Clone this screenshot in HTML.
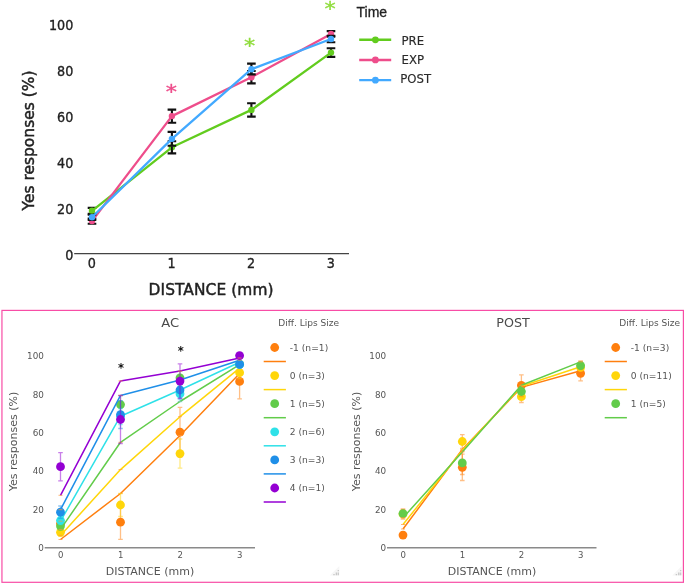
<!DOCTYPE html>
<html lang="en"><head><meta charset="utf-8"><title>Yes responses by distance</title>
<style>
html,body{margin:0;padding:0;background:#fff;}
body{width:685px;height:584px;overflow:hidden;font-family:"DejaVu Sans","Liberation Sans",sans-serif;}
svg{display:block;}
</style></head><body>
<svg width="685" height="584" viewBox="0 0 685 584">
<rect width="685" height="584" fill="#fff"/>
<g id="top">
<line x1="74.2" y1="253.7" x2="349" y2="253.7" stroke="#444" stroke-width="1.3"/>
<text transform="translate(73.3,260.2) scale(0.9,1)" font-size="14.2" text-anchor="end" fill="#222" stroke="#222" stroke-width="0.35" font-family="DejaVu Sans, Liberation Sans, sans-serif">0</text>
<text transform="translate(73.3,214.2) scale(0.9,1)" font-size="14.2" text-anchor="end" fill="#222" stroke="#222" stroke-width="0.35" font-family="DejaVu Sans, Liberation Sans, sans-serif">20</text>
<text transform="translate(73.3,168.2) scale(0.9,1)" font-size="14.2" text-anchor="end" fill="#222" stroke="#222" stroke-width="0.35" font-family="DejaVu Sans, Liberation Sans, sans-serif">40</text>
<text transform="translate(73.3,122.2) scale(0.9,1)" font-size="14.2" text-anchor="end" fill="#222" stroke="#222" stroke-width="0.35" font-family="DejaVu Sans, Liberation Sans, sans-serif">60</text>
<text transform="translate(73.3,76.2) scale(0.9,1)" font-size="14.2" text-anchor="end" fill="#222" stroke="#222" stroke-width="0.35" font-family="DejaVu Sans, Liberation Sans, sans-serif">80</text>
<text transform="translate(73.3,30.2) scale(0.9,1)" font-size="14.2" text-anchor="end" fill="#222" stroke="#222" stroke-width="0.35" font-family="DejaVu Sans, Liberation Sans, sans-serif">100</text>
<text transform="translate(91.75,268.4) scale(0.9,1)" font-size="14.2" text-anchor="middle" fill="#222" stroke="#222" stroke-width="0.35" font-family="DejaVu Sans, Liberation Sans, sans-serif">0</text>
<text transform="translate(171.65,268.4) scale(0.9,1)" font-size="14.2" text-anchor="middle" fill="#222" stroke="#222" stroke-width="0.35" font-family="DejaVu Sans, Liberation Sans, sans-serif">1</text>
<text transform="translate(251.15,268.4) scale(0.9,1)" font-size="14.2" text-anchor="middle" fill="#222" stroke="#222" stroke-width="0.35" font-family="DejaVu Sans, Liberation Sans, sans-serif">2</text>
<text transform="translate(330.75,268.4) scale(0.9,1)" font-size="14.2" text-anchor="middle" fill="#222" stroke="#222" stroke-width="0.35" font-family="DejaVu Sans, Liberation Sans, sans-serif">3</text>
<text transform="translate(211.1,295.3)" font-size="15.4" text-anchor="middle" fill="#222" stroke="#222" stroke-width="0.45" font-family="DejaVu Sans, Liberation Sans, sans-serif" letter-spacing="0.1">DISTANCE (mm)</text>
<text transform="translate(34.3,140.5) rotate(-90)" font-size="15.4" text-anchor="middle" fill="#222" stroke="#222" stroke-width="0.45" font-family="DejaVu Sans, Liberation Sans, sans-serif" letter-spacing="0.05">Yes responses (%)</text>
<path d="M92 207.9V213.8M87.7 207.9H96.3M87.7 213.8H96.3" stroke="#111" stroke-width="2.1" fill="none"/>
<path d="M171.9 141.2V153.4M167.6 141.2H176.2M167.6 153.4H176.2" stroke="#111" stroke-width="2.1" fill="none"/>
<path d="M251.4 103.3V116.6M247.1 103.3H255.7M247.1 116.6H255.7" stroke="#111" stroke-width="2.1" fill="none"/>
<path d="M331 48.3V56.9M326.7 48.3H335.3M326.7 56.9H335.3" stroke="#111" stroke-width="2.1" fill="none"/>
<polyline points="92,210.8 171.9,147.3 251.4,109.9 331,52.6" fill="none" stroke="#62cc1e" stroke-width="2.3" stroke-linejoin="round"/>
<circle cx="92" cy="210.8" r="3.2" fill="#62cc1e"/>
<circle cx="171.9" cy="147.3" r="3.2" fill="#62cc1e"/>
<circle cx="251.4" cy="109.9" r="3.2" fill="#62cc1e"/>
<circle cx="331" cy="52.6" r="3.2" fill="#62cc1e"/>
<path d="M171.9 146.5V153.4" stroke="#111" stroke-width="1.9" fill="none"/>
<path d="M92 218.5V223.7M87.7 218.5H96.3M87.7 223.7H96.3" stroke="#111" stroke-width="2.1" fill="none"/>
<path d="M171.9 109.6V122.8M167.6 109.6H176.2M167.6 122.8H176.2" stroke="#111" stroke-width="2.1" fill="none"/>
<path d="M251.4 71V83.4M247.1 71H255.7M247.1 83.4H255.7" stroke="#111" stroke-width="2.1" fill="none"/>
<path d="M331 31.1V36.6M326.7 31.1H335.3M326.7 36.6H335.3" stroke="#111" stroke-width="2.1" fill="none"/>
<polyline points="92,221.1 171.9,116.1 251.4,77.2 331,33.9" fill="none" stroke="#ee4d8b" stroke-width="2.3" stroke-linejoin="round"/>
<circle cx="92" cy="221.1" r="3.2" fill="#ee4d8b"/>
<circle cx="171.9" cy="116.1" r="3.2" fill="#ee4d8b"/>
<circle cx="251.4" cy="77.2" r="3.2" fill="#ee4d8b"/>
<circle cx="331" cy="33.9" r="3.2" fill="#ee4d8b"/>
<path d="M92 214.7V219.9M87.7 214.7H96.3M87.7 219.9H96.3" stroke="#111" stroke-width="2.1" fill="none"/>
<path d="M171.9 131.9V145.8M167.6 131.9H176.2M167.6 145.8H176.2" stroke="#111" stroke-width="2.1" fill="none"/>
<path d="M251.4 63.6V74.4M247.1 63.6H255.7M247.1 74.4H255.7" stroke="#111" stroke-width="2.1" fill="none"/>
<path d="M331 35.9V42.2M326.7 35.9H335.3M326.7 42.2H335.3" stroke="#111" stroke-width="2.1" fill="none"/>
<polyline points="92,217.3 171.9,138.85 251.4,69.2 331,39" fill="none" stroke="#42a9ff" stroke-width="2.3" stroke-linejoin="round"/>
<circle cx="92" cy="217.3" r="3.2" fill="#42a9ff"/>
<circle cx="171.9" cy="138.85" r="3.2" fill="#42a9ff"/>
<circle cx="251.4" cy="69.2" r="3.2" fill="#42a9ff"/>
<circle cx="331" cy="39" r="3.2" fill="#42a9ff"/>
<text transform="translate(171.25,88.8) scale(1.12,0.97)" x="0" y="9.8" font-size="20" text-anchor="middle" fill="#ee4d8b" stroke="#ee4d8b" stroke-width="0.35"  font-family="DejaVu Sans, Liberation Sans, sans-serif">*</text>
<text transform="translate(249.6,42.6) scale(1.12,0.97)" x="0" y="9.8" font-size="20" text-anchor="middle" fill="#8fdc3c" stroke="#8fdc3c" stroke-width="0.35"  font-family="DejaVu Sans, Liberation Sans, sans-serif">*</text>
<text transform="translate(330.1,5.4) scale(1.12,0.97)" x="0" y="9.8" font-size="20" text-anchor="middle" fill="#8fdc3c" stroke="#8fdc3c" stroke-width="0.35"  font-family="DejaVu Sans, Liberation Sans, sans-serif">*</text>
<text x="356.5" y="17" font-size="14" fill="#222" font-family="Liberation Sans, sans-serif" stroke="#222" stroke-width="0.3">Time</text>
<line x1="359.2" y1="39.8" x2="391.2" y2="39.8" stroke="#62cc1e" stroke-width="2.4"/>
<circle cx="375.4" cy="39.8" r="3.4" fill="#62cc1e"/>
<text transform="translate(401.5,44.6)" font-size="13.0" fill="#2a2a2a" stroke="#2a2a2a" stroke-width="0.15" font-family="DejaVu Sans Condensed, DejaVu Sans, Liberation Sans, sans-serif">PRE</text>
<line x1="359.2" y1="59.97" x2="391.2" y2="59.97" stroke="#ee4d8b" stroke-width="2.4"/>
<circle cx="375.4" cy="59.97" r="3.4" fill="#ee4d8b"/>
<text transform="translate(401.5,63.5)" font-size="13.0" fill="#2a2a2a" stroke="#2a2a2a" stroke-width="0.15" font-family="DejaVu Sans Condensed, DejaVu Sans, Liberation Sans, sans-serif">EXP</text>
<line x1="359.2" y1="80.14" x2="391.2" y2="80.14" stroke="#42a9ff" stroke-width="2.4"/>
<circle cx="375.4" cy="80.14" r="3.4" fill="#42a9ff"/>
<text transform="translate(400.3,83)" font-size="13.0" fill="#2a2a2a" stroke="#2a2a2a" stroke-width="0.15" font-family="DejaVu Sans Condensed, DejaVu Sans, Liberation Sans, sans-serif">POST</text>
</g>
<rect x="1.95" y="310.4" width="681.45" height="271.9" fill="none" stroke="#f84da6" stroke-width="1.2"/>
<g id="ac">
<text transform="translate(121,366.3) scale(1.0,1.0)" x="0" y="5.63" font-size="11.5" text-anchor="middle" fill="#111" stroke="#111" stroke-width="0" font-weight="bold" font-family="DejaVu Sans, Liberation Sans, sans-serif">*</text>
<text transform="translate(180.8,349.6) scale(1.0,1.0)" x="0" y="5.63" font-size="11.5" text-anchor="middle" fill="#111" stroke="#111" stroke-width="0" font-weight="bold" font-family="DejaVu Sans, Liberation Sans, sans-serif">*</text>
<line x1="44.7" y1="547.8" x2="255" y2="547.8" stroke="#8a8a8a" stroke-width="1.5"/>
<text transform="translate(43.9,551.2) scale(0.97,1)" font-size="9.1" text-anchor="end" fill="#555" font-family="DejaVu Sans, Liberation Sans, sans-serif">0</text>
<text transform="translate(43.9,512.8) scale(0.97,1)" font-size="9.1" text-anchor="end" fill="#555" font-family="DejaVu Sans, Liberation Sans, sans-serif">20</text>
<text transform="translate(43.9,474.4) scale(0.97,1)" font-size="9.1" text-anchor="end" fill="#555" font-family="DejaVu Sans, Liberation Sans, sans-serif">40</text>
<text transform="translate(43.9,436) scale(0.97,1)" font-size="9.1" text-anchor="end" fill="#555" font-family="DejaVu Sans, Liberation Sans, sans-serif">60</text>
<text transform="translate(43.9,397.6) scale(0.97,1)" font-size="9.1" text-anchor="end" fill="#555" font-family="DejaVu Sans, Liberation Sans, sans-serif">80</text>
<text transform="translate(43.9,359.2) scale(0.97,1)" font-size="9.1" text-anchor="end" fill="#555" font-family="DejaVu Sans, Liberation Sans, sans-serif">100</text>
<text transform="translate(60.6,558) scale(0.94,1)" font-size="9.1" text-anchor="middle" fill="#555" font-family="DejaVu Sans, Liberation Sans, sans-serif">0</text>
<text transform="translate(120.6,558) scale(0.94,1)" font-size="9.1" text-anchor="middle" fill="#555" font-family="DejaVu Sans, Liberation Sans, sans-serif">1</text>
<text transform="translate(180.1,558) scale(0.94,1)" font-size="9.1" text-anchor="middle" fill="#555" font-family="DejaVu Sans, Liberation Sans, sans-serif">2</text>
<text transform="translate(239.7,558) scale(0.94,1)" font-size="9.1" text-anchor="middle" fill="#555" font-family="DejaVu Sans, Liberation Sans, sans-serif">3</text>
<text transform="translate(150,575)" font-size="11" text-anchor="middle" fill="#555" font-family="DejaVu Sans, Liberation Sans, sans-serif">DISTANCE (mm)</text>
<text transform="translate(17,441.5) rotate(-90)" font-size="11" text-anchor="middle" fill="#555" font-family="DejaVu Sans, Liberation Sans, sans-serif">Yes responses (%)</text>
<text transform="translate(170.3,327.2)" font-size="13.1" text-anchor="middle" fill="#4a4a4a" font-family="DejaVu Sans, Liberation Sans, sans-serif">AC</text>
<text transform="translate(278.3,325.5) scale(1.065,1)" font-size="8.5" fill="#555" font-family="DejaVu Sans, Liberation Sans, sans-serif">Diff. Lips Size</text>
<path d="M120.5 505.1V539.3M118.2 505.1H122.8M118.2 539.3H122.8" stroke="#ff7f0e" stroke-opacity="0.5" stroke-width="1.3" fill="none"/>
<path d="M180 407.3V457.1M177.7 407.3H182.3M177.7 457.1H182.3" stroke="#ff7f0e" stroke-opacity="0.5" stroke-width="1.3" fill="none"/>
<path d="M239.6 364V398.8M237.3 364H241.9M237.3 398.8H241.9" stroke="#ff7f0e" stroke-opacity="0.5" stroke-width="1.3" fill="none"/>
<circle cx="60.5" cy="523.5" r="4.4" fill="#ff7f0e"/>
<circle cx="120.5" cy="522.2" r="4.4" fill="#ff7f0e"/>
<circle cx="180" cy="432.2" r="4.4" fill="#ff7f0e"/>
<circle cx="239.6" cy="381.4" r="4.4" fill="#ff7f0e"/>
<polyline points="60.5,539.5 120.5,493.5 180,435.5 239.6,373.6" fill="none" stroke="#ff7f0e" stroke-width="1.5" stroke-linejoin="round"/>
<path d="M58.5 539.5H62.5M118.5 493.5H122.5M178 435.5H182M237.6 373.6H241.6" stroke="#ff9a3c" stroke-opacity="0.7" stroke-width="1" fill="none"/>
<path d="M60.5 528.3V536.3M58.2 528.3H62.8M58.2 536.3H62.8" stroke="#ffd60a" stroke-opacity="0.5" stroke-width="1.3" fill="none"/>
<path d="M120.5 493.5V516.5M118.2 493.5H122.8M118.2 516.5H122.8" stroke="#ffd60a" stroke-opacity="0.5" stroke-width="1.3" fill="none"/>
<path d="M180 439V468.2M177.7 439H182.3M177.7 468.2H182.3" stroke="#ffd60a" stroke-opacity="0.5" stroke-width="1.3" fill="none"/>
<path d="M239.6 366.7V378.7M237.3 366.7H241.9M237.3 378.7H241.9" stroke="#ffd60a" stroke-opacity="0.5" stroke-width="1.3" fill="none"/>
<circle cx="60.5" cy="532.3" r="4.4" fill="#ffd60a"/>
<circle cx="120.5" cy="505" r="4.4" fill="#ffd60a"/>
<circle cx="180" cy="453.6" r="4.4" fill="#ffd60a"/>
<circle cx="239.6" cy="372.7" r="4.4" fill="#ffd60a"/>
<polyline points="60.5,535.4 120.5,469.6 180,416.7 239.6,368.2" fill="none" stroke="#ffd60a" stroke-width="1.5" stroke-linejoin="round"/>
<path d="M58.5 535.4H62.5M118.5 469.6H122.5M178 416.7H182M237.6 368.2H241.6" stroke="#ff9a3c" stroke-opacity="0.7" stroke-width="1" fill="none"/>
<path d="M60.5 522.1V530.1M58.2 522.1H62.8M58.2 530.1H62.8" stroke="#62cc4a" stroke-opacity="0.5" stroke-width="1.3" fill="none"/>
<path d="M120.5 395.6V413.6M118.2 395.6H122.8M118.2 413.6H122.8" stroke="#62cc4a" stroke-opacity="0.5" stroke-width="1.3" fill="none"/>
<path d="M180 370.8V384.8M177.7 370.8H182.3M177.7 384.8H182.3" stroke="#62cc4a" stroke-opacity="0.5" stroke-width="1.3" fill="none"/>
<path d="M239.6 361V367M237.3 361H241.9M237.3 367H241.9" stroke="#62cc4a" stroke-opacity="0.5" stroke-width="1.3" fill="none"/>
<circle cx="60.5" cy="526.1" r="4.4" fill="#62cc4a"/>
<circle cx="120.5" cy="404.6" r="4.4" fill="#62cc4a"/>
<circle cx="180" cy="377.8" r="4.4" fill="#62cc4a"/>
<circle cx="239.6" cy="364" r="4.4" fill="#62cc4a"/>
<polyline points="60.5,529.4 120.5,442.3 180,401.5 239.6,364.6" fill="none" stroke="#62cc4a" stroke-width="1.5" stroke-linejoin="round"/>
<path d="M58.5 529.4H62.5M118.5 442.3H122.5M178 401.5H182M237.6 364.6H241.6" stroke="#ff9a3c" stroke-opacity="0.7" stroke-width="1" fill="none"/>
<path d="M60.5 516.5V524.5M58.2 516.5H62.8M58.2 524.5H62.8" stroke="#2ee1e8" stroke-opacity="0.5" stroke-width="1.3" fill="none"/>
<path d="M120.5 408.5V424.5M118.2 408.5H122.8M118.2 424.5H122.8" stroke="#2ee1e8" stroke-opacity="0.5" stroke-width="1.3" fill="none"/>
<path d="M180 386.1V401.5M177.7 386.1H182.3M177.7 401.5H182.3" stroke="#2ee1e8" stroke-opacity="0.5" stroke-width="1.3" fill="none"/>
<path d="M239.6 361.5V367.5M237.3 361.5H241.9M237.3 367.5H241.9" stroke="#2ee1e8" stroke-opacity="0.5" stroke-width="1.3" fill="none"/>
<circle cx="60.5" cy="520.5" r="4.4" fill="#2ee1e8"/>
<circle cx="120.5" cy="416.5" r="4.4" fill="#2ee1e8"/>
<circle cx="180" cy="393.8" r="4.4" fill="#2ee1e8"/>
<circle cx="239.6" cy="364.5" r="4.4" fill="#2ee1e8"/>
<polyline points="60.5,521.2 120.5,416.2 180,390 239.6,362.2" fill="none" stroke="#2ee1e8" stroke-width="1.5" stroke-linejoin="round"/>
<path d="M58.5 521.2H62.5M118.5 416.2H122.5M178 390H182M237.6 362.2H241.6" stroke="#ff9a3c" stroke-opacity="0.7" stroke-width="1" fill="none"/>
<path d="M60.5 506V518.4M58.2 506H62.8M58.2 518.4H62.8" stroke="#1f8fe8" stroke-opacity="0.5" stroke-width="1.3" fill="none"/>
<path d="M120.5 400.7V428.5M118.2 400.7H122.8M118.2 428.5H122.8" stroke="#1f8fe8" stroke-opacity="0.5" stroke-width="1.3" fill="none"/>
<path d="M180 381V399M177.7 381H182.3M177.7 399H182.3" stroke="#1f8fe8" stroke-opacity="0.5" stroke-width="1.3" fill="none"/>
<path d="M239.6 361.3V367.3M237.3 361.3H241.9M237.3 367.3H241.9" stroke="#1f8fe8" stroke-opacity="0.5" stroke-width="1.3" fill="none"/>
<circle cx="60.5" cy="512.2" r="4.4" fill="#1f8fe8"/>
<circle cx="120.5" cy="414.6" r="4.4" fill="#1f8fe8"/>
<circle cx="180" cy="390" r="4.4" fill="#1f8fe8"/>
<circle cx="239.6" cy="364.3" r="4.4" fill="#1f8fe8"/>
<polyline points="60.5,509.7 120.5,395.4 180,380 239.6,360.2" fill="none" stroke="#1f8fe8" stroke-width="1.5" stroke-linejoin="round"/>
<path d="M58.5 509.7H62.5M118.5 395.4H122.5M178 380H182M237.6 360.2H241.6" stroke="#ff9a3c" stroke-opacity="0.7" stroke-width="1" fill="none"/>
<path d="M60.5 452.6V480.8M58.2 452.6H62.8M58.2 480.8H62.8" stroke="#9400d3" stroke-opacity="0.5" stroke-width="1.3" fill="none"/>
<path d="M120.5 395.5V443.5M118.2 395.5H122.8M118.2 443.5H122.8" stroke="#9400d3" stroke-opacity="0.5" stroke-width="1.3" fill="none"/>
<path d="M180 363.8V398.4M177.7 363.8H182.3M177.7 398.4H182.3" stroke="#9400d3" stroke-opacity="0.5" stroke-width="1.3" fill="none"/>
<circle cx="60.5" cy="466.7" r="4.4" fill="#9400d3"/>
<circle cx="120.5" cy="419.5" r="4.4" fill="#9400d3"/>
<circle cx="180" cy="381.1" r="4.4" fill="#9400d3"/>
<circle cx="239.6" cy="355.6" r="4.4" fill="#9400d3"/>
<polyline points="60.5,495.3 120.5,380.9 180,371.1 239.6,358" fill="none" stroke="#9400d3" stroke-width="1.5" stroke-linejoin="round"/>
<path d="M58.5 495.3H62.5M118.5 380.9H122.5M178 371.1H182M237.6 358H241.6" stroke="#ff9a3c" stroke-opacity="0.7" stroke-width="1" fill="none"/>
<circle cx="274.7" cy="347.5" r="4.4" fill="#ff7f0e"/>
<line x1="263.7" y1="361.5" x2="285.9" y2="361.5" stroke="#ff7f0e" stroke-width="1.5"/>
<text transform="translate(289.8,350.8) scale(0.995,1)" font-size="9.2" fill="#555" font-family="DejaVu Sans, Liberation Sans, sans-serif">-1 (n=1)</text>
<circle cx="274.7" cy="375.6" r="4.4" fill="#ffd60a"/>
<line x1="263.7" y1="389.6" x2="285.9" y2="389.6" stroke="#ffd60a" stroke-width="1.5"/>
<text transform="translate(289.8,378.9) scale(0.995,1)" font-size="9.2" fill="#555" font-family="DejaVu Sans, Liberation Sans, sans-serif">0 (n=3)</text>
<circle cx="274.7" cy="403.7" r="4.4" fill="#62cc4a"/>
<line x1="263.7" y1="417.7" x2="285.9" y2="417.7" stroke="#62cc4a" stroke-width="1.5"/>
<text transform="translate(289.8,407) scale(0.995,1)" font-size="9.2" fill="#555" font-family="DejaVu Sans, Liberation Sans, sans-serif">1 (n=5)</text>
<circle cx="274.7" cy="431.8" r="4.4" fill="#2ee1e8"/>
<line x1="263.7" y1="445.8" x2="285.9" y2="445.8" stroke="#2ee1e8" stroke-width="1.5"/>
<text transform="translate(289.8,435.1) scale(0.995,1)" font-size="9.2" fill="#555" font-family="DejaVu Sans, Liberation Sans, sans-serif">2 (n=6)</text>
<circle cx="274.7" cy="459.9" r="4.4" fill="#1f8fe8"/>
<line x1="263.7" y1="473.9" x2="285.9" y2="473.9" stroke="#1f8fe8" stroke-width="1.5"/>
<text transform="translate(289.8,463.2) scale(0.995,1)" font-size="9.2" fill="#555" font-family="DejaVu Sans, Liberation Sans, sans-serif">3 (n=3)</text>
<circle cx="274.7" cy="488" r="4.4" fill="#9400d3"/>
<line x1="263.7" y1="502" x2="285.9" y2="502" stroke="#9400d3" stroke-width="1.5"/>
<text transform="translate(289.8,491.3) scale(0.995,1)" font-size="9.2" fill="#555" font-family="DejaVu Sans, Liberation Sans, sans-serif">4 (n=1)</text>
</g>
<g id="post">
<line x1="387" y1="547.8" x2="596.5" y2="547.8" stroke="#8a8a8a" stroke-width="1.5"/>
<text transform="translate(386.2,551.2) scale(0.97,1)" font-size="9.1" text-anchor="end" fill="#555" font-family="DejaVu Sans, Liberation Sans, sans-serif">0</text>
<text transform="translate(386.2,512.8) scale(0.97,1)" font-size="9.1" text-anchor="end" fill="#555" font-family="DejaVu Sans, Liberation Sans, sans-serif">20</text>
<text transform="translate(386.2,474.4) scale(0.97,1)" font-size="9.1" text-anchor="end" fill="#555" font-family="DejaVu Sans, Liberation Sans, sans-serif">40</text>
<text transform="translate(386.2,436) scale(0.97,1)" font-size="9.1" text-anchor="end" fill="#555" font-family="DejaVu Sans, Liberation Sans, sans-serif">60</text>
<text transform="translate(386.2,397.6) scale(0.97,1)" font-size="9.1" text-anchor="end" fill="#555" font-family="DejaVu Sans, Liberation Sans, sans-serif">80</text>
<text transform="translate(386.2,359.2) scale(0.97,1)" font-size="9.1" text-anchor="end" fill="#555" font-family="DejaVu Sans, Liberation Sans, sans-serif">100</text>
<text transform="translate(403.1,558) scale(0.94,1)" font-size="9.1" text-anchor="middle" fill="#555" font-family="DejaVu Sans, Liberation Sans, sans-serif">0</text>
<text transform="translate(462.4,558) scale(0.94,1)" font-size="9.1" text-anchor="middle" fill="#555" font-family="DejaVu Sans, Liberation Sans, sans-serif">1</text>
<text transform="translate(521.5,558) scale(0.94,1)" font-size="9.1" text-anchor="middle" fill="#555" font-family="DejaVu Sans, Liberation Sans, sans-serif">2</text>
<text transform="translate(580.7,558) scale(0.94,1)" font-size="9.1" text-anchor="middle" fill="#555" font-family="DejaVu Sans, Liberation Sans, sans-serif">3</text>
<text transform="translate(492,575)" font-size="11" text-anchor="middle" fill="#555" font-family="DejaVu Sans, Liberation Sans, sans-serif">DISTANCE (mm)</text>
<text transform="translate(359.5,441.5) rotate(-90)" font-size="11" text-anchor="middle" fill="#555" font-family="DejaVu Sans, Liberation Sans, sans-serif">Yes responses (%)</text>
<text transform="translate(513,327.2)" font-size="12.7" text-anchor="middle" fill="#4a4a4a" font-family="DejaVu Sans, Liberation Sans, sans-serif">POST</text>
<text transform="translate(619.3,325.5) scale(1.065,1)" font-size="8.5" fill="#555" font-family="DejaVu Sans, Liberation Sans, sans-serif">Diff. Lips Size</text>
<path d="M403 532.1V538.1M400.7 532.1H405.3M400.7 538.1H405.3" stroke="#ff7f0e" stroke-opacity="0.5" stroke-width="1.3" fill="none"/>
<path d="M462.3 454.1V480.5M460 454.1H464.6M460 480.5H464.6" stroke="#ff7f0e" stroke-opacity="0.5" stroke-width="1.3" fill="none"/>
<path d="M521.4 374.8V395.8M519.1 374.8H523.7M519.1 395.8H523.7" stroke="#ff7f0e" stroke-opacity="0.5" stroke-width="1.3" fill="none"/>
<path d="M580.6 365.8V380.8M578.3 365.8H582.9M578.3 380.8H582.9" stroke="#ff7f0e" stroke-opacity="0.5" stroke-width="1.3" fill="none"/>
<circle cx="403" cy="535.1" r="4.4" fill="#ff7f0e"/>
<circle cx="462.3" cy="467.3" r="4.4" fill="#ff7f0e"/>
<circle cx="521.4" cy="385.3" r="4.4" fill="#ff7f0e"/>
<circle cx="580.6" cy="373.3" r="4.4" fill="#ff7f0e"/>
<polyline points="403,529 462.3,449.5 521.4,387.4 580.6,370.8" fill="none" stroke="#ff7f0e" stroke-width="1.5" stroke-linejoin="round"/>
<path d="M401 529H405M460.3 449.5H464.3M519.4 387.4H523.4M578.6 370.8H582.6" stroke="#ff9a3c" stroke-opacity="0.7" stroke-width="1" fill="none"/>
<path d="M403 509V519M400.7 509H405.3M400.7 519H405.3" stroke="#ff7f0e" stroke-opacity="0.5" stroke-width="1.3" fill="none"/>
<path d="M462.3 434.6V448.4M460 434.6H464.6M460 448.4H464.6" stroke="#ff7f0e" stroke-opacity="0.5" stroke-width="1.3" fill="none"/>
<path d="M521.4 390.9V402.5M519.1 390.9H523.7M519.1 402.5H523.7" stroke="#ff7f0e" stroke-opacity="0.5" stroke-width="1.3" fill="none"/>
<path d="M580.6 360.8V374M578.3 360.8H582.9M578.3 374H582.9" stroke="#ff7f0e" stroke-opacity="0.5" stroke-width="1.3" fill="none"/>
<circle cx="403" cy="514" r="4.4" fill="#ffd60a"/>
<circle cx="462.3" cy="441.5" r="4.4" fill="#ffd60a"/>
<circle cx="521.4" cy="396.7" r="4.4" fill="#ffd60a"/>
<circle cx="580.6" cy="367.4" r="4.4" fill="#ffd60a"/>
<polyline points="403,524.5 462.3,450.5 521.4,386.3 580.6,366.7" fill="none" stroke="#ffd60a" stroke-width="1.5" stroke-linejoin="round"/>
<path d="M401 524.5H405M460.3 450.5H464.3M519.4 386.3H523.4M578.6 366.7H582.6" stroke="#ff9a3c" stroke-opacity="0.7" stroke-width="1" fill="none"/>
<path d="M403 509.6V517.6M400.7 509.6H405.3M400.7 517.6H405.3" stroke="#ff7f0e" stroke-opacity="0.5" stroke-width="1.3" fill="none"/>
<path d="M462.3 451.3V474.5M460 451.3H464.6M460 474.5H464.6" stroke="#ff7f0e" stroke-opacity="0.5" stroke-width="1.3" fill="none"/>
<path d="M521.4 386.5V396.5M519.1 386.5H523.7M519.1 396.5H523.7" stroke="#ff7f0e" stroke-opacity="0.5" stroke-width="1.3" fill="none"/>
<path d="M580.6 361.6V369.6M578.3 361.6H582.9M578.3 369.6H582.9" stroke="#ff7f0e" stroke-opacity="0.5" stroke-width="1.3" fill="none"/>
<circle cx="403" cy="513.6" r="4.4" fill="#62cc4a"/>
<circle cx="462.3" cy="462.9" r="4.4" fill="#62cc4a"/>
<circle cx="521.4" cy="391.5" r="4.4" fill="#62cc4a"/>
<circle cx="580.6" cy="365.6" r="4.4" fill="#62cc4a"/>
<polyline points="403,517.8 462.3,452 521.4,385.3 580.6,361.9" fill="none" stroke="#62cc4a" stroke-width="1.5" stroke-linejoin="round"/>
<path d="M401 517.8H405M460.3 452H464.3M519.4 385.3H523.4M578.6 361.9H582.6" stroke="#ff9a3c" stroke-opacity="0.7" stroke-width="1" fill="none"/>
<circle cx="615.7" cy="347.5" r="4.4" fill="#ff7f0e"/>
<line x1="604.7" y1="361.5" x2="626.9" y2="361.5" stroke="#ff7f0e" stroke-width="1.5"/>
<text transform="translate(630.8,350.8) scale(0.995,1)" font-size="9.2" fill="#555" font-family="DejaVu Sans, Liberation Sans, sans-serif">-1 (n=3)</text>
<circle cx="615.7" cy="375.6" r="4.4" fill="#ffd60a"/>
<line x1="604.7" y1="389.6" x2="626.9" y2="389.6" stroke="#ffd60a" stroke-width="1.5"/>
<text transform="translate(630.8,378.9) scale(0.995,1)" font-size="9.2" fill="#555" font-family="DejaVu Sans, Liberation Sans, sans-serif">0 (n=11)</text>
<circle cx="615.7" cy="403.7" r="4.4" fill="#62cc4a"/>
<line x1="604.7" y1="417.7" x2="626.9" y2="417.7" stroke="#62cc4a" stroke-width="1.5"/>
<text transform="translate(630.8,407) scale(0.995,1)" font-size="9.2" fill="#555" font-family="DejaVu Sans, Liberation Sans, sans-serif">1 (n=5)</text>
</g>
<g transform="translate(339.3,575.6)"><path d="M0 0L-9.5 0L0 -9.5Z" fill="#f6f6f6"/><path d="M-1.6 -5.6h1.2v1.3h-1.2zM-3.6 -3.1h1.4v1.4h-1.4zM-1.6 -3.1h1.2v1.4h-1.2zM-6 -1.6h1.4v1.2h-1.4zM-3.6 -1.6h1.4v1.2h-1.4zM-1.6 -1.6h1.2v1.2h-1.2z" fill="#9a9a9a" fill-opacity="0.5"/></g>
<g transform="translate(681.7,575.6)"><path d="M0 0L-9.5 0L0 -9.5Z" fill="#f6f6f6"/><path d="M-1.6 -5.6h1.2v1.3h-1.2zM-3.6 -3.1h1.4v1.4h-1.4zM-1.6 -3.1h1.2v1.4h-1.2zM-6 -1.6h1.4v1.2h-1.4zM-3.6 -1.6h1.4v1.2h-1.4zM-1.6 -1.6h1.2v1.2h-1.2z" fill="#9a9a9a" fill-opacity="0.5"/></g>
</svg>
</body></html>
